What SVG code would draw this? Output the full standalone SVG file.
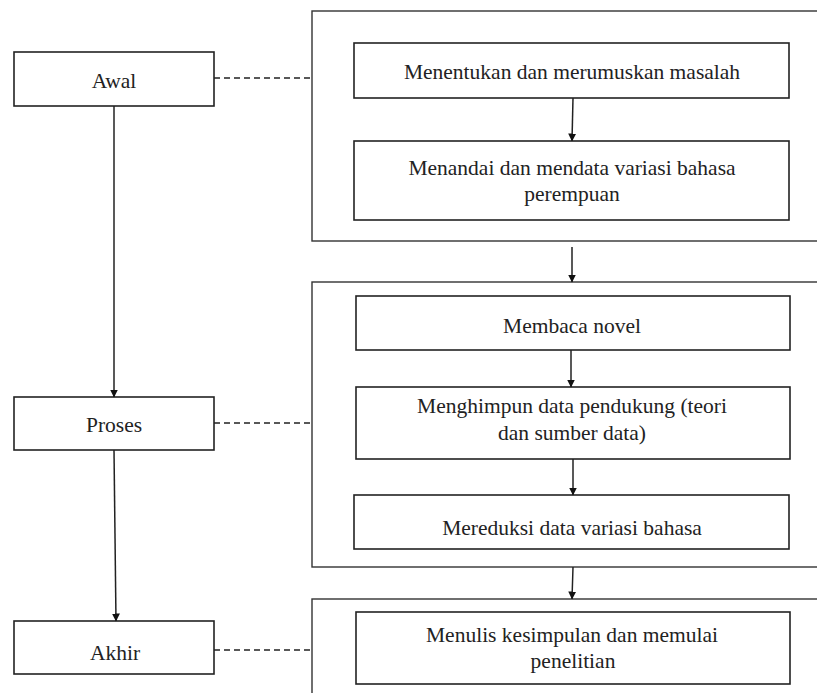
<svg xmlns="http://www.w3.org/2000/svg" width="817" height="693" viewBox="0 0 817 693">
<style>
.box{fill:#fff;stroke:#222;stroke-width:1.6}
.grp{fill:none;stroke:#333;stroke-width:1.4}
text{font-family:'Liberation Serif','Times New Roman',Times,'DejaVu Serif',serif;font-size:21.5px;fill:#222;text-anchor:middle}
.ln{stroke:#222;stroke-width:1.5;fill:none}
.dash{stroke:#222;stroke-width:1.5;fill:none;stroke-dasharray:6 4}
</style>
<defs>
<marker id="ah" markerWidth="8" markerHeight="9" refX="7.5" refY="4" orient="auto" markerUnits="userSpaceOnUse">
<path d="M0,0 L8,4 L0,8 Z" fill="#111"/>
</marker>
</defs>
<rect width="817" height="693" fill="#fff"/>
<g id="group-awal"><rect class="grp" x="312" y="11" width="510" height="230"/></g>
<g id="group-proses"><rect class="grp" x="312" y="282" width="510" height="285"/></g>
<g id="group-akhir"><rect class="grp" x="312" y="599" width="510" height="110"/></g>
<g id="awal"><rect class="box" x="14" y="52" width="200" height="54"/><text x="114" y="88">Awal</text></g>
<g id="proses"><rect class="box" x="14" y="397" width="200" height="53"/><text x="114" y="432">Proses</text></g>
<g id="akhir"><rect class="box" x="14" y="621" width="200" height="53"/><text x="115" y="660">Akhir</text></g>
<g id="n1"><rect class="box" x="354" y="43" width="435" height="55"/><text x="572" y="79">Menentukan dan merumuskan masalah</text></g>
<g id="n2"><rect class="box" x="354" y="141" width="435" height="79"/><text x="572" y="175">Menandai dan mendata variasi bahasa</text><text x="572" y="201">perempuan</text></g>
<g id="n3"><rect class="box" x="356" y="296" width="434" height="54"/><text x="572" y="333">Membaca novel</text></g>
<g id="n4"><rect class="box" x="356" y="387" width="434" height="72"/><text x="572" y="413">Menghimpun data pendukung (teori</text><text x="572" y="440">dan sumber data)</text></g>
<g id="n5"><rect class="box" x="354" y="495" width="435" height="54"/><text x="572" y="535">Mereduksi data variasi bahasa</text></g>
<g id="n6"><rect class="box" x="356" y="612" width="434" height="72"/><text x="572" y="642">Menulis kesimpulan dan memulai</text><text x="573" y="668">penelitian</text></g>
<g id="connectors">
<line class="dash" x1="214" y1="78" x2="312" y2="78"/>
<line class="dash" x1="214" y1="423" x2="312" y2="423"/>
<line class="dash" x1="214" y1="650" x2="312" y2="650"/>
<line class="ln" x1="114" y1="106" x2="114" y2="397" marker-end="url(#ah)"/>
<line class="ln" x1="114" y1="450" x2="116" y2="621" marker-end="url(#ah)"/>
<line class="ln" x1="573" y1="98" x2="572" y2="141" marker-end="url(#ah)"/>
<line class="ln" x1="572" y1="247" x2="572" y2="282" marker-end="url(#ah)"/>
<line class="ln" x1="571" y1="350" x2="571" y2="387" marker-end="url(#ah)"/>
<line class="ln" x1="573" y1="459" x2="573" y2="495" marker-end="url(#ah)"/>
<line class="ln" x1="573" y1="567" x2="572" y2="599" marker-end="url(#ah)"/>
</g>
</svg>
